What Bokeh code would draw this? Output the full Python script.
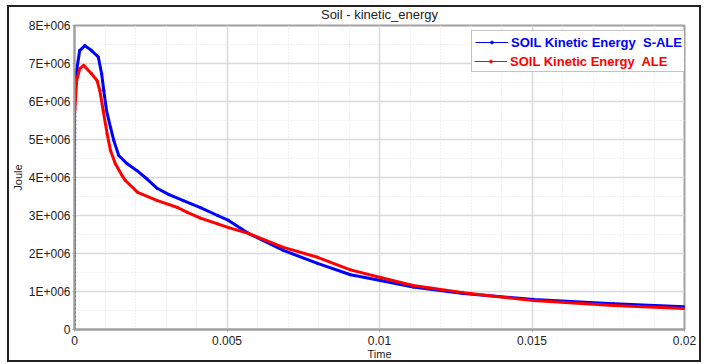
from bokeh.plotting import figure
from bokeh.models import (FixedTicker, Legend, LegendItem, Range1d, InlineStyleSheet)
from bokeh.embed import file_html
from bokeh.resources import INLINE

# ---- data ----
time_sale = [0.0, 0.00003, 0.00017, 0.00034, 0.00056, 0.00078, 0.00089, 0.00096,
             0.00105, 0.00118, 0.00129, 0.00145, 0.00173, 0.00205, 0.00238, 0.00272,
             0.0031, 0.00357, 0.00413, 0.00469, 0.00505, 0.0057, 0.00685, 0.00797,
             0.00905, 0.01003, 0.0111, 0.01275, 0.01505, 0.01767, 0.02]
ke_sale = [0.0, 6.6e6, 7.34e6, 7.47e6, 7.34e6, 7.17e6, 6.73e6, 6.29e6,
           5.76e6, 5.32e6, 4.97e6, 4.58e6, 4.36e6, 4.18e6, 3.96e6, 3.71e6,
           3.55e6, 3.39e6, 3.21e6, 3.0e6, 2.87e6, 2.53e6, 2.08e6, 1.74e6,
           1.44e6, 1.29e6, 1.12e6, 0.95e6, 0.79e6, 0.68e6, 0.60e6]

time_ale = [0.0, 0.00001, 0.00007, 0.00017, 0.0003, 0.00056, 0.00074, 0.00083,
            0.00094, 0.00107, 0.00118, 0.00134, 0.00156, 0.00167, 0.00207, 0.00272,
            0.00338, 0.0037, 0.00413, 0.00469, 0.00505, 0.0057, 0.00685, 0.00797,
            0.00905, 0.01003, 0.0111, 0.01275, 0.01505, 0.01767, 0.02]
ke_ale = [0.0, 5.76e6, 6.55e6, 6.86e6, 6.95e6, 6.73e6, 6.55e6, 6.29e6,
          5.76e6, 5.15e6, 4.71e6, 4.36e6, 4.05e6, 3.92e6, 3.61e6, 3.39e6,
          3.21e6, 3.08e6, 2.93e6, 2.78e6, 2.68e6, 2.53e6, 2.16e6, 1.90e6,
          1.57e6, 1.37e6, 1.16e6, 0.97e6, 0.76e6, 0.63e6, 0.55e6]

x_ticks = [0, 0.005, 0.01, 0.015, 0.02]
x_tick_labels = ["0", "0.005", "0.01", "0.015", "0.02"]
x_minor = [0.001, 0.002, 0.003, 0.004, 0.006, 0.007, 0.008, 0.009,
           0.011, 0.012, 0.013, 0.014, 0.016, 0.017, 0.018, 0.019]
y_ticks = [0, 1e6, 2e6, 3e6, 4e6, 5e6, 6e6, 7e6, 8e6]
y_tick_labels = ["0", "1E+006", "2E+006", "3E+006", "4E+006", "5E+006",
                 "6E+006", "7E+006", "8E+006"]
y_minor = [0.5e6, 1.5e6, 2.5e6, 3.5e6, 4.5e6, 5.5e6, 6.5e6, 7.5e6]

series_names = ["SOIL Kinetic Energy  S-ALE", "SOIL Kinetic Energy  ALE"]
series_colors = ["#0000ff", "#ff0000"]

FONT = "Liberation Sans"
TXT = "#222222"
AX = "#a0a0a0"

p = figure(width=702, height=363, output_backend="svg", toolbar_location=None,
           x_range=Range1d(0, 0.02), y_range=Range1d(0, 8e6),
           title="Soil - kinetic_energy",
           min_border_left=74, min_border_right=18,
           min_border_top=25, min_border_bottom=34)

p.stylesheets = [InlineStyleSheet(css="""
:host { position: relative; }
:host::after { content: ''; position: absolute; left: 7px; top: 5px; right: 1px; bottom: 1px;
               border: 2px solid #222222; pointer-events: none; z-index: 10; }
""")]

p.title.align = "center"
p.title.offset = 0
p.title.standoff = 7
p.title.text_font = FONT
p.title.text_font_size = "13px"
p.title.text_font_style = "normal"
p.title.text_color = TXT

p.outline_line_color = AX
p.outline_line_width = 2

for ax in (p.xaxis[0], p.yaxis[0]):
    ax.axis_line_color = AX
    ax.axis_line_width = 2
    ax.major_tick_line_color = AX
    ax.major_tick_out = 2
    ax.major_tick_in = 0
    ax.minor_tick_out = 0
    ax.minor_tick_in = 0
    ax.major_label_text_font = FONT
    ax.major_label_text_font_size = "12px"
    ax.major_label_text_color = TXT
    ax.axis_label_text_font = FONT
    ax.axis_label_text_font_size = "11px"
    ax.axis_label_text_font_style = "normal"
    ax.axis_label_text_color = TXT
p.xaxis.major_label_standoff = 4
p.yaxis.major_label_standoff = 2
p.xaxis.axis_label_standoff = 0
p.yaxis.axis_label_standoff = 2

p.xaxis.ticker = FixedTicker(ticks=x_ticks, minor_ticks=x_minor)
p.yaxis.ticker = FixedTicker(ticks=y_ticks, minor_ticks=y_minor)
p.xaxis.major_label_overrides = {t: l for t, l in zip(x_ticks, x_tick_labels)}
p.yaxis.major_label_overrides = {t: l for t, l in zip(y_ticks, y_tick_labels)}
p.xaxis.axis_label = "Time"
p.yaxis.axis_label = "Joule"

for g in (p.xgrid[0], p.ygrid[0]):
    g.grid_line_color = "#d9d9d9"
    g.grid_line_width = 1.5
    g.minor_grid_line_color = "#e2e2e2"
    g.minor_grid_line_width = 1
    g.minor_grid_line_dash = "1 2"

series = [(time_sale, ke_sale), (time_ale, ke_ale)]
thin_lines = []
for (t, v), c in zip(series, series_colors):
    # thin line (used as legend glyph, hidden under the thick curve)
    thin_lines.append(p.line(t, v, line_color=c, line_width=1))
dots = []
for (t, v), c in zip(series, series_colors):
    # small markers (legend dot), hidden inside the thick curve
    dots.append(p.scatter(t[1:], v[1:], marker="circle", size=2.5,
                          fill_color=c, line_color=c, line_width=0.5))
for (t, v), c in zip(series, series_colors):
    # steep initial rise at t = 0 (appears dotted in the reference)
    p.line(t[:2], v[:2], line_color=c, line_width=2, line_dash="2 2")
for (t, v), c in zip(series, series_colors):
    p.line(t[1:], v[1:], line_color=c, line_width=3, line_join="round")

leg_items = [LegendItem(label=n, renderers=[l, d])
             for n, l, d in zip(series_names, thin_lines, dots)]

LX, LY = 397, 257
def make_legend(items, color, pad, loc, border):
    lg = Legend(items=items, location=loc, padding=pad, spacing=2, margin=0,
                glyph_width=33, glyph_height=8, label_height=16,
                label_standoff=3, label_text_font=FONT,
                label_text_font_size="13px", label_text_font_style="bold",
                label_text_color=color, background_fill_color="white",
                background_fill_alpha=1.0)
    if border:
        lg.border_line_color = "#888888"
        lg.border_line_width = 1.5
    else:
        lg.border_line_alpha = 0
    return lg

legend_main = make_legend(leg_items, series_colors[0], 3, (LX, LY), True)
legend_red = make_legend([LegendItem(label=series_names[1], renderers=leg_items[1].renderers)],
                         series_colors[1], 1, (LX + 2, LY + 2), False)
p.add_layout(legend_main)
p.add_layout(legend_red)

open("out.html", "w").write(file_html(p, INLINE))
